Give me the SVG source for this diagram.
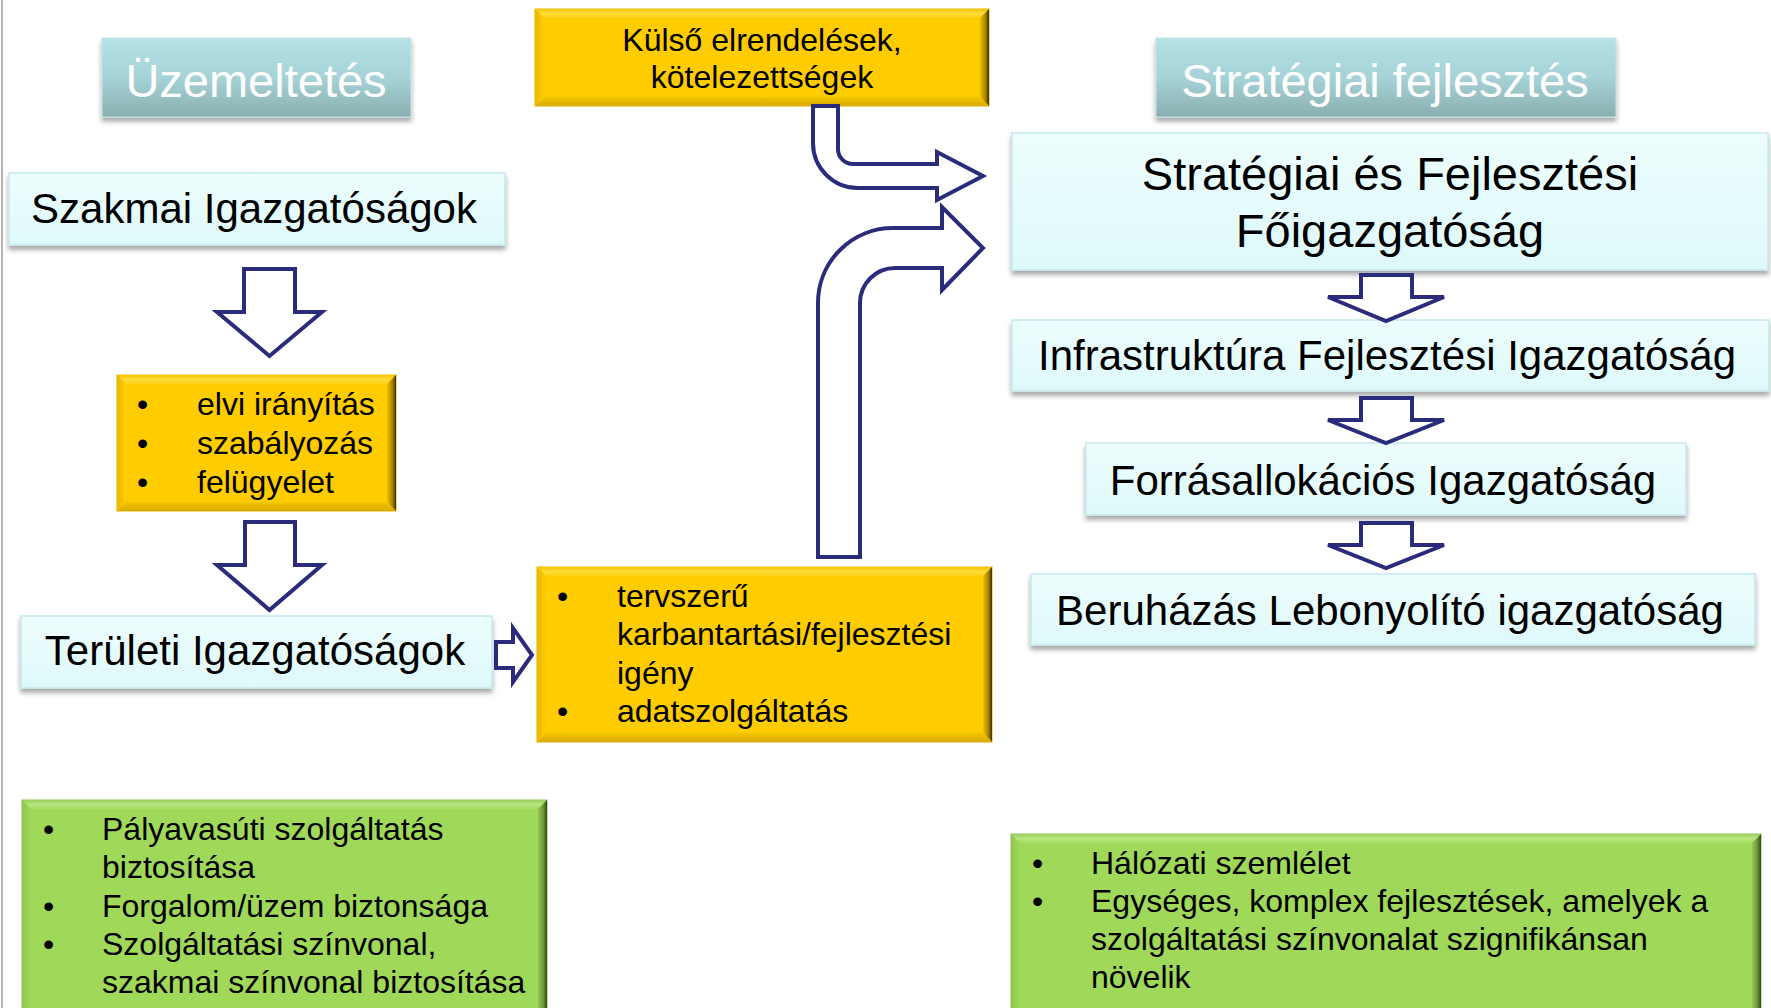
<svg xmlns="http://www.w3.org/2000/svg" width="1771" height="1008" viewBox="0 0 1771 1008">
<defs>
<linearGradient id="teal" x1="0" y1="0" x2="0" y2="1"><stop offset="0" stop-color="#b4e1e5"/><stop offset="0.5" stop-color="#a6d3d7"/><stop offset="1" stop-color="#8aaeb0"/></linearGradient>
<linearGradient id="cyan" x1="0" y1="0" x2="0" y2="1"><stop offset="0" stop-color="#eefdfd"/><stop offset="1" stop-color="#def9fb"/></linearGradient>
<linearGradient id="yTop" x1="0" y1="0" x2="0" y2="1"><stop offset="0" stop-color="#f2c400"/><stop offset="0.5" stop-color="#ffdc3a"/><stop offset="1" stop-color="#ffcf10"/></linearGradient>
<linearGradient id="yRight" x1="0" y1="0" x2="1" y2="0"><stop offset="0" stop-color="#f0bf00"/><stop offset="0.6" stop-color="#a88400"/><stop offset="1" stop-color="#3c2f00"/></linearGradient>
<linearGradient id="yBottom" x1="0" y1="0" x2="0" y2="1"><stop offset="0" stop-color="#f5c600"/><stop offset="1" stop-color="#d9aa00"/></linearGradient>
<linearGradient id="yLeft" x1="0" y1="0" x2="1" y2="0"><stop offset="0" stop-color="#e8b800"/><stop offset="1" stop-color="#ffcc00"/></linearGradient>
<linearGradient id="gTop" x1="0" y1="0" x2="0" y2="1"><stop offset="0" stop-color="#9ccf5e"/><stop offset="0.5" stop-color="#b8e580"/><stop offset="1" stop-color="#a6dc62"/></linearGradient>
<linearGradient id="gRight" x1="0" y1="0" x2="1" y2="0"><stop offset="0" stop-color="#94c850"/><stop offset="0.6" stop-color="#6a9638"/><stop offset="1" stop-color="#2e4a18"/></linearGradient>
<linearGradient id="gBottom" x1="0" y1="0" x2="0" y2="1"><stop offset="0" stop-color="#96cc54"/><stop offset="1" stop-color="#7aa844"/></linearGradient>
<linearGradient id="gLeft" x1="0" y1="0" x2="1" y2="0"><stop offset="0" stop-color="#8fc450"/><stop offset="1" stop-color="#a0d95a"/></linearGradient>
<filter id="shadow" x="-5%" y="-20%" width="110%" height="150%"><feDropShadow dx="0" dy="4" stdDeviation="2.5" flood-color="#000" flood-opacity="0.35"/></filter>
</defs>
<style>
text{font-family:"Liberation Sans",Arial,sans-serif;fill:#000}
.hdr{fill:url(#teal);stroke:#c2e4e6;stroke-width:1}
.hdrt{font-size:47px;fill:#fff;text-anchor:middle}
.cy{fill:url(#cyan);stroke:#c6e9ec;stroke-width:1.5}
.big{font-size:42px;text-anchor:middle}
.sff{font-size:47px;text-anchor:middle}
.b32{font-size:32px}
.mid{text-anchor:middle}
.arr{fill:#fff;stroke:#2b2b7c;stroke-width:4;stroke-linejoin:miter}
.yb{fill:#ffcc00;stroke:#e2b400;stroke-width:1}
.gb{fill:#a0d95a;stroke:#8cc048;stroke-width:1}
</style>
<rect x="0" y="0" width="1771" height="1008" fill="#fff"/>
<line x1="2" y1="0" x2="2" y2="1008" stroke="#b4b4b4" stroke-width="2"/>

<g id="hdr-uzem">
<rect class="hdr" x="102" y="38" width="309" height="79" filter="url(#shadow)"/>
<text class="hdrt" x="256" y="97">Üzemeltetés</text>
</g>
<g id="hdr-strat">
<rect class="hdr" x="1156" y="38" width="460" height="79" filter="url(#shadow)"/>
<text class="hdrt" x="1385" y="97">Stratégiai fejlesztés</text>
</g>

<g id="kulso">
<rect class="yb" x="535" y="9" width="454" height="97"/>
<polygon points="535,9 989,9 980,18 544,18" fill="url(#yTop)"/>
<polygon points="989,9 989,106 980,97 980,18" fill="url(#yRight)"/>
<polygon points="535,106 989,106 980,97 544,97" fill="url(#yBottom)"/>
<polygon points="535,9 544,18 544,97 535,106" fill="url(#yLeft)"/>
<text class="b32 mid" x="762" y="51">Külső elrendelések,</text>
<text class="b32 mid" x="762" y="88">kötelezettségek</text>
</g>

<g id="szakmai">
<rect class="cy" x="9" y="173" width="496" height="72" filter="url(#shadow)"/>
<text class="big" x="254" y="223">Szakmai Igazgatóságok</text>
</g>

<g id="elvi">
<rect class="yb" x="117" y="375" width="279" height="136"/>
<polygon points="117,375 396,375 387,384 126,384" fill="url(#yTop)"/>
<polygon points="396,375 396,511 387,502 387,384" fill="url(#yRight)"/>
<polygon points="117,511 396,511 387,502 126,502" fill="url(#yBottom)"/>
<polygon points="117,375 126,384 126,502 117,511" fill="url(#yLeft)"/>
<text class="b32" x="137" y="415">•</text><text class="b32" x="197" y="415">elvi irányítás</text>
<text class="b32" x="137" y="454">•</text><text class="b32" x="197" y="454">szabályozás</text>
<text class="b32" x="137" y="493">•</text><text class="b32" x="197" y="493">felügyelet</text>
</g>

<g id="teruleti">
<rect class="cy" x="21" y="616" width="471" height="72" filter="url(#shadow)"/>
<text class="big" x="255" y="665">Területi Igazgatóságok</text>
</g>

<g id="tervszeru">
<rect class="yb" x="537" y="567" width="455" height="175"/>
<polygon points="537,567 992,567 983,576 546,576" fill="url(#yTop)"/>
<polygon points="992,567 992,742 983,733 983,576" fill="url(#yRight)"/>
<polygon points="537,742 992,742 983,733 546,733" fill="url(#yBottom)"/>
<polygon points="537,567 546,576 546,733 537,742" fill="url(#yLeft)"/>
<text class="b32" x="557" y="607">•</text><text class="b32" x="617" y="607">tervszerű</text>
<text class="b32" x="617" y="645">karbantartási/fejlesztési</text>
<text class="b32" x="617" y="684">igény</text>
<text class="b32" x="557" y="722">•</text><text class="b32" x="617" y="722">adatszolgáltatás</text>
</g>

<g id="sff">
<rect class="cy" x="1012" y="133" width="756" height="137" filter="url(#shadow)"/>
<text class="sff" x="1390" y="190">Stratégiai és Fejlesztési</text>
<text class="sff" x="1390" y="247">Főigazgatóság</text>
</g>

<g id="infra">
<rect class="cy" x="1012" y="320" width="757" height="71" filter="url(#shadow)"/>
<text class="big" x="1387" y="370">Infrastruktúra Fejlesztési Igazgatóság</text>
</g>

<g id="forras">
<rect class="cy" x="1086" y="443" width="600" height="72" filter="url(#shadow)"/>
<text class="big" x="1383" y="495">Forrásallokációs Igazgatóság</text>
</g>

<g id="beruhazas">
<rect class="cy" x="1031" y="574" width="724" height="71" filter="url(#shadow)"/>
<text class="big" x="1390" y="625">Beruházás Lebonyolító igazgatóság</text>
</g>

<g id="green-left">
<rect class="gb" x="22" y="800" width="525" height="230"/>
<polygon points="22,800 547,800 538,809 31,809" fill="url(#gTop)"/>
<polygon points="547,800 547,1030 538,1021 538,809" fill="url(#gRight)"/>
<polygon points="22,800 31,809 31,1021 22,1030" fill="url(#gLeft)"/>
<text class="b32" x="43" y="840">•</text><text class="b32" x="102" y="840">Pályavasúti szolgáltatás</text>
<text class="b32" x="102" y="878">biztosítása</text>
<text class="b32" x="43" y="917">•</text><text class="b32" x="102" y="917">Forgalom/üzem biztonsága</text>
<text class="b32" x="43" y="955">•</text><text class="b32" x="102" y="955">Szolgáltatási színvonal,</text>
<text class="b32" x="102" y="993">szakmai színvonal biztosítása</text>
</g>

<g id="green-right">
<rect class="gb" x="1011" y="834" width="750" height="196"/>
<polygon points="1011,834 1761,834 1752,843 1020,843" fill="url(#gTop)"/>
<polygon points="1761,834 1761,1030 1752,1021 1752,843" fill="url(#gRight)"/>
<polygon points="1011,834 1020,843 1020,1021 1011,1030" fill="url(#gLeft)"/>
<text class="b32" x="1032" y="874">•</text><text class="b32" x="1091" y="874">Hálózati szemlélet</text>
<text class="b32" x="1032" y="912">•</text><text class="b32" x="1091" y="912">Egységes, komplex fejlesztések, amelyek a</text>
<text class="b32" x="1091" y="950">szolgáltatási színvonalat szignifikánsan</text>
<text class="b32" x="1091" y="988">növelik</text>
</g>

<g id="connectors">
<path class="arr" d="M244 269 H295 V312 H322 L269.5 356 L217 312 H244 Z"/>
<path class="arr" d="M245 522 H295 V565 H322 L269.5 610 L217 565 H245 Z"/>
<path class="arr" stroke-width="3.5" d="M496 642 H513 V628 L532 655 L513 682 V668 H496 Z"/>
<path class="arr" d="M813 106 H838 V149 A15 15 0 0 0 853 164 H937 V152 L983 176 L937 200 V188 H858 A45 45 0 0 1 813 143 Z"/>
<path class="arr" d="M818 557 V303 A75 75 0 0 1 893 228 H942 V207 L983 248 L942 290 V268 H895 A35 35 0 0 0 860 303 V557 Z"/>
<path class="arr" stroke-width="3.5" d="M1361 275 H1412 V297 H1444 L1386 321 L1328 297 H1361 Z"/>
<path class="arr" stroke-width="3.5" d="M1361 398 H1412 V420 H1444 L1386 443 L1328 420 H1361 Z"/>
<path class="arr" stroke-width="3.5" d="M1361 523 H1412 V545 H1444 L1386 568 L1328 545 H1361 Z"/>
</g>
</svg>
